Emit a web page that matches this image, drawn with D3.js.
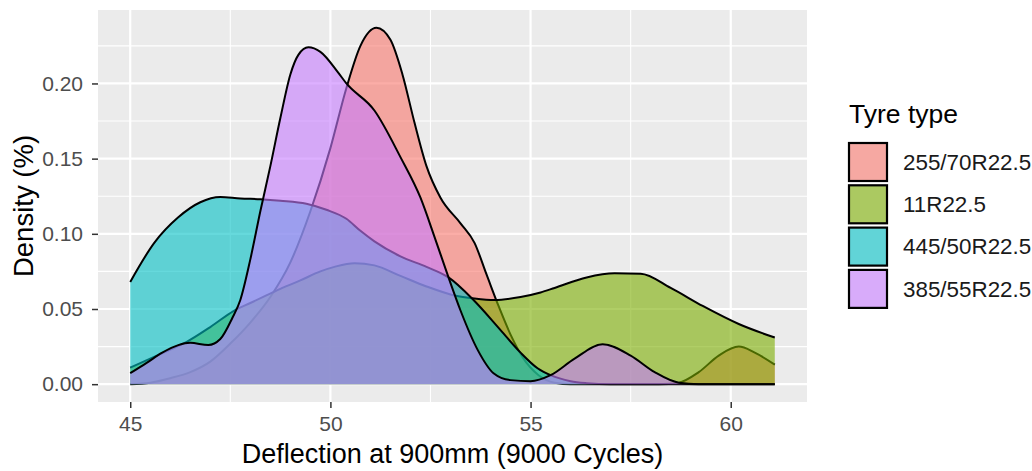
<!DOCTYPE html>
<html>
<head>
<meta charset="UTF-8">
<title>Deflection density by tyre type</title>
<script src="https://cdn.jsdelivr.net/npm/d3@7"></script>
<style>
  body { margin: 0; background: #fff; }
  text { font-family: "Liberation Sans", Arial, sans-serif; }
</style>
</head>
<body>
<svg id="chart" width="1032" height="471"></svg>
<script>
// tyre types, in ggplot factor order (also the drawing order)
var tyres = ["255/70R22.5", "11R22.5", "445/50R22.5", "385/55R22.5"];
var colors = ["#F8766D", "#7CAE00", "#00BFC4", "#C77CFF"];

// density curves: [deflection, density]
var dens255 = [[45, 0], [45.5, 0.001], [46, 0.004], [46.5, 0.008], [47, 0.015], [47.5, 0.027],
  [48, 0.041], [48.5, 0.058], [49, 0.081], [49.5, 0.115], [50, 0.157], [50.4, 0.197],
  [50.75, 0.225], [51.15, 0.237], [51.5, 0.229], [51.8, 0.206], [52.1, 0.174], [52.4, 0.145],
  [52.75, 0.124], [53.25, 0.107], [53.6, 0.094], [53.9, 0.073], [54.2, 0.052], [54.5, 0.033],
  [54.8, 0.018], [55.2, 0.006], [55.6, 0.001], [56, 0], [58.2, 0], [58.7, 0.001], [59.2, 0.008],
  [59.7, 0.019], [60.2, 0.025], [60.6, 0.021], [61.1, 0.013]];
var dens11 = [[45, 0.011], [45.5, 0.017], [46, 0.023], [46.4, 0.028], [47, 0.038], [47.6, 0.049],
  [48, 0.054], [48.4, 0.059], [48.8, 0.064], [49.25, 0.069], [49.75, 0.075], [50.1, 0.078],
  [50.6, 0.0805], [51.1, 0.079], [51.75, 0.072], [52.4, 0.065], [53.1, 0.059], [53.6, 0.057],
  [54.1, 0.056], [54.75, 0.058], [55.25, 0.061], [55.6, 0.064], [56.4, 0.071], [57.1, 0.0737],
  [57.75, 0.0735], [58.5, 0.064], [59.3, 0.052], [60.2, 0.04], [61.1, 0.031]];
var dens445 = [[45, 0.068], [45.6, 0.094], [46.2, 0.111], [46.75, 0.121], [47.25, 0.1245],
  [47.75, 0.1235], [48.25, 0.123], [48.75, 0.122], [49.4, 0.12], [49.9, 0.116], [50.4, 0.11],
  [50.75, 0.102], [51.1, 0.095], [51.75, 0.085], [52.4, 0.078], [52.95, 0.071], [53.575, 0.056],
  [54.25, 0.036], [54.75, 0.021], [55.175, 0.0106], [55.5, 0.006], [56, 0.002], [56.4, 0.0007],
  [57, 0], [61.1, 0]];
var dens385 = [[45, 0.0073], [45.4, 0.014], [45.8, 0.021], [46.2, 0.026], [46.5, 0.0275],
  [46.95, 0.026], [47.25, 0.03], [47.55, 0.044], [47.75, 0.056], [48, 0.083], [48.25, 0.115],
  [48.5, 0.145], [48.75, 0.177], [49, 0.206], [49.2, 0.219], [49.45, 0.224], [49.75, 0.221],
  [50.2, 0.207], [50.4, 0.2], [51.1, 0.182], [51.75, 0.151], [52.25, 0.124], [52.6, 0.098],
  [52.95, 0.071], [53.25, 0.049], [53.675, 0.023], [54.075, 0.0073], [54.5, 0.0027], [55, 0.002],
  [55.5, 0.006], [56.1, 0.017], [56.8, 0.0265], [57.5, 0.019], [58.1, 0.008], [58.7, 0.001],
  [59.2, 0], [61.1, 0]];

var xBreaks = [45, 50, 55, 60];
var xMinor = [47.5, 52.5, 57.5];
var yBreaks = [0, 0.05, 0.1, 0.15, 0.2];
var yMinor = [0.025, 0.075, 0.125, 0.175, 0.225];

var curves = [dens255, dens11, dens445, dens385];

var svg = d3.select("#chart");
var panel = { left: 98, right: 807, top: 10, bottom: 402 };

// ggplot style 5% expansion
var xMin = 45, xMax = 61.1;
var yMax = d3.max(curves, function (c) { return d3.max(c, function (d) { return d[1]; }); });
var x = d3.scaleLinear()
  .domain([xMin - 0.05 * (xMax - xMin), xMax + 0.05 * (xMax - xMin)])
  .range([panel.left, panel.right]);
var y = d3.scaleLinear()
  .domain([-0.05 * yMax, yMax * 1.05])
  .range([panel.bottom, panel.top]);

// panel background and grid
svg.append("rect")
  .attr("x", panel.left).attr("y", panel.top)
  .attr("width", panel.right - panel.left).attr("height", panel.bottom - panel.top)
  .attr("fill", "#EBEBEB");

var grid = svg.append("g");
grid.selectAll(".ymin").data(yMinor).enter().append("line")
  .attr("x1", panel.left).attr("x2", panel.right)
  .attr("y1", function (d) { return y(d); }).attr("y2", function (d) { return y(d); })
  .attr("stroke", "#fff").attr("stroke-width", 1.1);
grid.selectAll(".xmin").data(xMinor).enter().append("line")
  .attr("y1", panel.top).attr("y2", panel.bottom)
  .attr("x1", function (d) { return x(d); }).attr("x2", function (d) { return x(d); })
  .attr("stroke", "#fff").attr("stroke-width", 1.1);
grid.selectAll(".ymaj").data(yBreaks).enter().append("line")
  .attr("x1", panel.left).attr("x2", panel.right)
  .attr("y1", function (d) { return y(d); }).attr("y2", function (d) { return y(d); })
  .attr("stroke", "#fff").attr("stroke-width", 2.2);
grid.selectAll(".xmaj").data(xBreaks).enter().append("line")
  .attr("y1", panel.top).attr("y2", panel.bottom)
  .attr("x1", function (d) { return x(d); }).attr("x2", function (d) { return x(d); })
  .attr("stroke", "#fff").attr("stroke-width", 2.2);

// densities: fill then upper outline, group by group
var area = d3.area()
  .x(function (d) { return x(d[0]); })
  .y0(y(0))
  .y1(function (d) { return y(d[1]); })
  .curve(d3.curveMonotoneX);
var line = d3.line()
  .x(function (d) { return x(d[0]); })
  .y(function (d) { return y(d[1]); })
  .curve(d3.curveMonotoneX);

curves.forEach(function (c, i) {
  svg.append("path").datum(c)
    .attr("d", area)
    .attr("fill", colors[i]).attr("fill-opacity", 0.6);
  svg.append("path").datum(c)
    .attr("d", line)
    .attr("fill", "none").attr("stroke", "#000").attr("stroke-width", 2)
    .attr("stroke-linejoin", "round");
});

// axes
var xAxis = d3.axisBottom(x).tickValues(xBreaks).tickSize(6).tickPadding(8)
  .tickFormat(d3.format("d"));
var yAxis = d3.axisLeft(y).tickValues(yBreaks).tickSize(6).tickPadding(9)
  .tickFormat(d3.format(".2f"));

var gx = svg.append("g").attr("transform", "translate(0," + panel.bottom + ")").call(xAxis);
var gy = svg.append("g").attr("transform", "translate(" + panel.left + ",0)").call(yAxis);
[gx, gy].forEach(function (g) {
  g.select(".domain").remove();
  g.selectAll(".tick line").attr("stroke", "#333").attr("stroke-width", 1.5);
  g.selectAll(".tick text").attr("fill", "#4D4D4D")
    .style("font-size", "21px").style("font-family", "'Liberation Sans', Arial, sans-serif");
});

svg.append("text")
  .attr("x", (panel.left + panel.right) / 2).attr("y", 463)
  .attr("text-anchor", "middle").attr("font-size", 27).attr("fill", "#000")
  .text("Deflection at 900mm (9000 Cycles)");
svg.append("text")
  .attr("transform", "translate(33," + (panel.top + panel.bottom) / 2 + ") rotate(-90)")
  .attr("text-anchor", "middle").attr("font-size", 27.5).attr("fill", "#000")
  .text("Density (%)");

// legend
var legend = svg.append("g").attr("transform", "translate(848,0)");
legend.append("text").attr("x", 1).attr("y", 123)
  .attr("font-size", 26.5).attr("fill", "#000").text("Tyre type");
var keys = legend.selectAll(".key").data(tyres).enter().append("g")
  .attr("transform", function (d, i) { return "translate(0," + (142 + i * 42.3) + ")"; });
keys.append("rect").attr("x", 1).attr("y", 1).attr("width", 38).attr("height", 38)
  .attr("fill", "#F2F2F2");
keys.append("rect").attr("x", 1).attr("y", 1).attr("width", 38).attr("height", 38)
  .attr("fill", function (d, i) { return colors[i]; }).attr("fill-opacity", 0.6)
  .attr("stroke", "#000").attr("stroke-width", 2.2);
keys.append("text").attr("x", 55).attr("y", 20).attr("dy", "0.35em")
  .attr("font-size", 22.4).attr("fill", "#1A1A1A")
  .text(function (d) { return d; });
</script>
</body>
</html>
